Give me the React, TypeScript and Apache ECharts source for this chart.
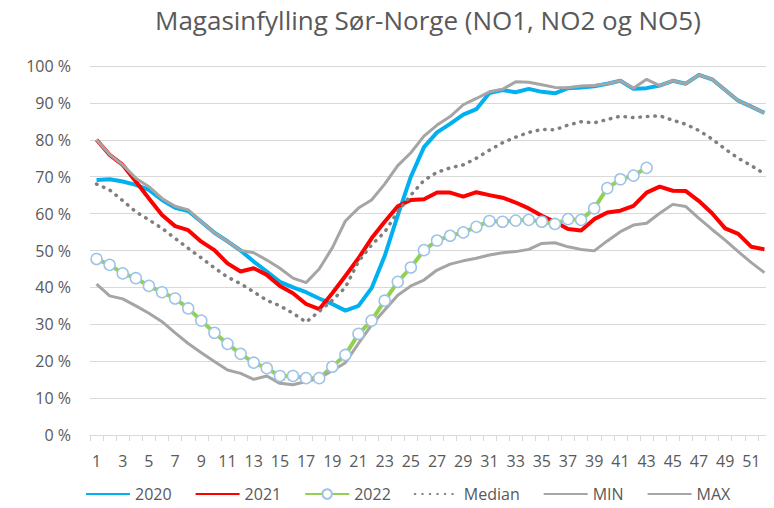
import React, { useEffect, useRef } from "react";
import * as echarts from "echarts";

const weeks = Array.from({ length: 52 }, (_, i) => String(i + 1));

const y2020 = [69.1, 69.3, 68.7, 67.8, 66.4, 63.7, 61.6, 60.7, 57.8, 54.8, 52.5, 50, 47, 44.3, 41.5, 40, 38.7, 37, 35.5, 33.7, 35, 39.8, 48.5, 59.5, 70, 78, 82, 84.3, 86.8, 88.3, 92.7, 93.5, 92.9, 93.8, 93, 92.6, 94, 94.2, 94.5, 95.2, 96, 93.8, 94, 94.7, 96, 95.2, 97.6, 96.4, 93.5, 90.6, 89, 87.3];

const y2021 = [80, 75.9, 73.2, 68.7, 64.1, 59.6, 56.6, 55.5, 52.4, 50.1, 46.5, 44.3, 45.2, 43.4, 40.4, 38.4, 35.5, 34.1, 38.4, 43.1, 47.9, 53.3, 57.8, 62, 63.7, 63.9, 65.7, 65.7, 64.6, 65.8, 65, 64.3, 63, 61.4, 59.4, 57.8, 55.8, 55.4, 58.5, 60.3, 60.8, 62.1, 65.7, 67.3, 66.2, 66.1, 63.4, 60.1, 56, 54.5, 51, 50.3];

const y2022 = [47.7, 46.1, 43.8, 42.5, 40.4, 38.7, 37, 34.3, 31, 27.7, 24.7, 22, 19.6, 18.1, 16, 16, 15.4, 15.4, 18.5, 21.7, 27.4, 31, 36.4, 41.5, 45.4, 50.1, 52.7, 54, 54.9, 56.4, 58, 57.8, 58.1, 58.3, 57.8, 57.2, 58.5, 58.3, 61.4, 66.9, 69.3, 70.3, 72.4];

const median = [68, 66.4, 63.5, 60.5, 58.3, 56, 53.3, 50.6, 48, 45.3, 42.8, 41, 38.8, 36.5, 35, 33, 30.6, 33.5, 36.5, 40, 47, 51.5, 55, 60.5, 65, 69, 71.2, 72.4, 73.2, 75, 77.2, 79.2, 80.7, 82, 82.8, 82.7, 84, 84.9, 84.6, 85.5, 86.4, 86, 86.3, 86.5, 85.3, 84.2, 82.5, 80.2, 77.5, 75, 73, 70.8];

const minVals = [40.9, 37.7, 36.9, 35, 33, 30.7, 27.7, 24.8, 22.3, 19.9, 17.6, 16.7, 15.1, 16, 14, 13.6, 14.5, 15.4, 17.4, 19.6, 24.8, 29.8, 33.9, 37.9, 40.4, 42, 44.7, 46.3, 47.2, 47.9, 48.8, 49.4, 49.7, 50.3, 51.9, 52.1, 51, 50.3, 49.9, 52.6, 55.1, 56.9, 57.4, 60.1, 62.5, 61.9, 58.7, 55.7, 52.8, 49.7, 46.7, 44];

const maxVals = [80, 76, 73.2, 69.6, 67.3, 64.1, 62, 61, 57.8, 54.8, 52.5, 50, 49.4, 47.4, 45.2, 42.5, 41.3, 45, 50.7, 58, 61.5, 63.7, 68, 73, 76.5, 81, 84, 86.3, 89.5, 91.2, 93, 93.7, 95.7, 95.6, 94.9, 94.2, 94.1, 94.6, 94.7, 95.2, 96, 94, 96.4, 94.7, 96, 95.2, 97.6, 96.4, 93.5, 90.6, 89, 87.3];

const FONT = "Open Sans";
const TEXT = "#595959";
const GRID = "#d9d9d9";

const hiddenSymbol = { opacity: 0, color: "rgba(0,0,0,0)", borderColor: "rgba(0,0,0,0)", borderWidth: 0 };

export default function App() {
  const ref = useRef<HTMLDivElement>(null);
  useEffect(() => {
    if (!ref.current) return;
    const chart = echarts.init(ref.current, null, { renderer: "svg" });
    chart.setOption({
      animation: false,
      backgroundColor: "#fff",
      textStyle: { fontFamily: FONT },
      title: {
        text: "Magasinfylling Sør-Norge (NO1, NO2 og NO5)",
        left: 150,
        top: 2,
        textStyle: { fontFamily: FONT, fontSize: 26, fontWeight: "normal", color: TEXT },
      },
      grid: { left: 90, right: 3, top: 66, bottom: 73 },
      legend: {
        left: 80,
        top: 481,
        itemWidth: 44,
        itemHeight: 12,
        itemGap: 23,
        textStyle: { fontFamily: FONT, fontSize: 16, color: TEXT },
        data: [
          { name: "2020", itemStyle: hiddenSymbol },
          { name: "2021", itemStyle: hiddenSymbol },
          { name: "2022" },
          { name: "Median", itemStyle: hiddenSymbol },
          { name: "MIN", itemStyle: hiddenSymbol },
          { name: "MAX", itemStyle: hiddenSymbol },
        ],
      },
      xAxis: {
        type: "category",
        data: weeks,
        boundaryGap: true,
        axisLine: { lineStyle: { color: GRID, width: 1 } },
        axisTick: { show: true, interval: 0, length: 6, lineStyle: { color: GRID } },
        axisLabel: { interval: 1, margin: 18, fontSize: 16, color: TEXT, fontFamily: FONT },
        splitLine: { show: false },
      },
      yAxis: {
        type: "value",
        min: 0,
        max: 100,
        interval: 10,
        axisLine: { show: false },
        axisTick: { show: false },
        axisLabel: { formatter: "{value} %", margin: 19, fontSize: 16, color: TEXT, fontFamily: FONT },
        splitLine: { lineStyle: { color: GRID, width: 1 } },
      },
      series: [
        {
          name: "2020",
          type: "line",
          data: y2020,
          symbol: "none",
          lineStyle: { color: "#00b0f0", width: 4 },
          itemStyle: { color: "#00b0f0" },
        },
        {
          name: "2021",
          type: "line",
          data: y2021,
          symbol: "none",
          lineStyle: { color: "#ff0000", width: 4 },
          itemStyle: { color: "#ff0000" },
        },
        {
          name: "2022",
          type: "line",
          data: y2022,
          symbol: "circle",
          symbolSize: 11,
          showAllSymbol: true,
          lineStyle: { color: "#92d050", width: 4 },
          itemStyle: { color: "#ffffff", borderColor: "#9dc3e6", borderWidth: 1.5 },
        },
        {
          name: "Median",
          type: "line",
          data: median,
          symbol: "none",
          lineStyle: { color: "#7f7f7f", width: 3.5, type: [0.5, 7], cap: "round" },
          itemStyle: { color: "#7f7f7f" },
        },
        {
          name: "MIN",
          type: "line",
          data: minVals,
          symbol: "none",
          lineStyle: { color: "#a5a5a5", width: 3 },
          itemStyle: { color: "#a5a5a5" },
        },
        {
          name: "MAX",
          type: "line",
          data: maxVals,
          symbol: "none",
          lineStyle: { color: "#a5a5a5", width: 3 },
          itemStyle: { color: "#a5a5a5" },
        },
      ],
    });
    return () => chart.dispose();
  }, []);
  return <div ref={ref} style={{ width: 774, height: 508, margin: -8 }} />;
}
